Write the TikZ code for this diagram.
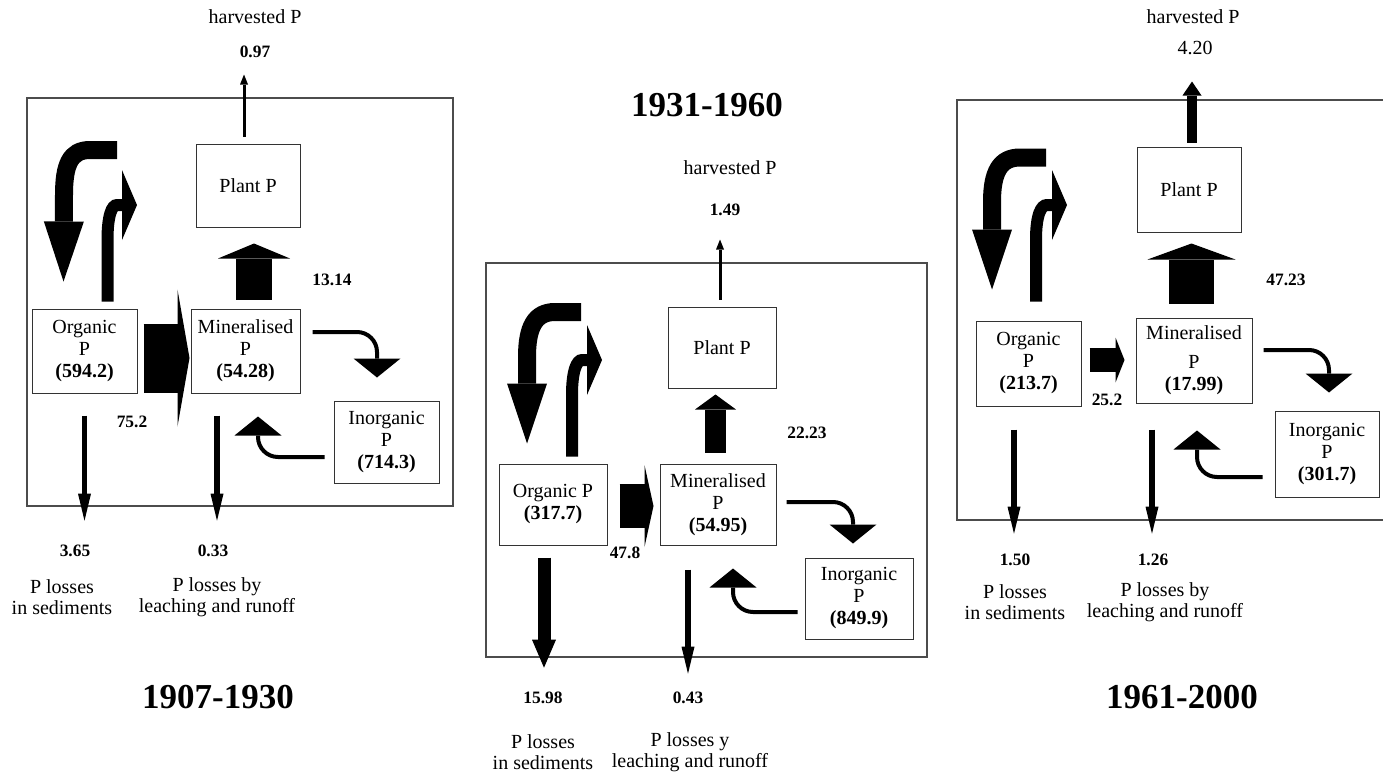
\documentclass[tikz,border=0pt]{standalone}
\usepackage{fontspec}
\setmainfont{Liberation Serif}
\usetikzlibrary{arrows.meta,calc}

\begin{document}
\begin{tikzpicture}[x=0.5pt, y=-0.5pt]
\useasboundingbox (0,0) rectangle (1383,777);
\tikzset{pool/.style={draw=black!80, line width=0.5pt, align=center, inner sep=0pt, font=\fontsize{10}{11}\selectfont},
  pframe/.style={draw=black!70, line width=0.7pt, inner sep=0pt},
  num/.style={font=\fontsize{8.7}{10}\selectfont\bfseries},
  lbl/.style={font=\fontsize{10}{10.5}\selectfont, align=center},
  period/.style={font=\fontsize{17.5}{20}\selectfont\bfseries},
  blk/.style n args={3}{line width=#1, -{Triangle[width=#2, length=#3, line width=0pt]}},
  flow/.style={blk={2pt}{23.5pt}{9.5pt}, rounded corners=10pt},
  loss/.style={blk={2.75pt}{6.5pt}{13.5pt}},
  harv/.style={blk={1.5pt}{4pt}{5pt}},
  feeddown/.style={blk={9pt}{20pt}{30pt}},
  feedup/.style={blk={6pt}{35pt}{7.5pt}}}
% 1907-1930
\node[pframe, minimum width=213pt, minimum height=204pt] (frame1) at (240,302) {};
\node[pool, minimum width=52pt, minimum height=41.5pt] (plant1) at (248,185.5) {Plant P};
\node[pool, minimum width=52.5pt, minimum height=42pt] (organic1) at (84.5,351) {Organic\\P\\\textbf{(594.2)}};
\node[pool, minimum width=54.5pt, minimum height=42pt] (mineral1) at (245.5,351) {Mineralised\\P\\\textbf{(54.28)}};
\node[pool, minimum width=52.5pt, minimum height=41pt] (inorg1) at (386.5,442) {Inorganic\\P\\\textbf{(714.3)}};
\node[lbl] (hl1) at (255,17) {harvested P};
\node[num] (hv1) at (255,52) {0.97};
\node[num] (up1) at (332,280) {13.14};
\node[num] (mn1) at (132,422) {75.2};
\node[num] (ls1) at (75,551) {3.65};
\node[num] (lr1) at (213,551) {0.33};
\node[lbl] (ts1) at (62,597) {P losses\\in sediments};
\node[lbl] (tr1) at (217,597) {P losses by\\leaching and runoff};
\node[period] (yr1) at (218,697) {1907-1930};
\draw[harv] ($(plant1.north)+(-4,-7)$) -- ($(plant1.north)+(-4,-69)$);
\draw[blk={18pt}{36pt}{7.5pt}] ($(mineral1.north)+(8.5,-9)$) -- ($(plant1.south)+(6,16)$);
\draw[blk={34.5pt}{68.5pt}{6pt}] ($(organic1.east)+(6,7)$) -- ($(mineral1.west)+(-1,7)$);
\draw[flow] ($(mineral1.east)+(12,-19)$) -| ($(inorg1.north)+(-9.5,-23)$);
\draw[flow] ($(inorg1.west)+(-9,15)$) -| ($(mineral1.south)+(12.5,23)$);
\draw[loss] ($(organic1.south)+(0,22)$) -- ($(organic1.south |- frame1.south)+(0,14)$);
\draw[loss] ($(mineral1.south)+(-28.5,22)$) -- ($(mineral1.south |- frame1.south)+(-28.5,14)$);
\draw[feeddown] (117,150) -- (90,150) .. controls (70,150) and (64,165) .. (64,195) -- ($(organic1.north)+(-21,-27)$);
\draw[feedup] ($(organic1.north)+(23,-7)$) -- (107.5,240) .. controls (107.5,215) and (112,205) .. (117,205) -- (137,205);
% 1931-1960
\node[pframe, minimum width=220.5pt, minimum height=197pt] (frame2) at (706.5,460) {};
\node[pool, minimum width=54pt, minimum height=40.5pt] (plant2) at (722,347.5) {Plant P};
\node[pool, minimum width=54pt, minimum height=40.5pt] (organic2) at (553,504.5) {Organic P\\\textbf{(317.7)}};
\node[pool, minimum width=58pt, minimum height=40.5pt] (mineral2) at (718,504.5) {Mineralised\\P\\\textbf{(54.95)}};
\node[pool, minimum width=54pt, minimum height=40.5pt] (inorg2) at (859,598.5) {Inorganic\\P\\\textbf{(849.9)}};
\node[period] (yr2) at (707,105) {1931-1960};
\node[lbl] (hl2) at (730,168) {harvested P};
\node[num] (hv2) at (725,210) {1.49};
\node[num] (up2) at (807,433) {22.23};
\node[num] (mn2) at (625,553) {47.8};
\node[num] (ls2) at (543,698) {15.98};
\node[num] (lr2) at (688,698) {0.43};
\node[lbl] (ts2) at (543,752) {P losses\\in sediments};
\node[lbl] (tr2) at (690,752) {P losses y\\leaching and runoff};
\draw[harv] ($(plant2.north)+(-2,-7)$) -- ($(plant2.north)+(-2,-67)$);
\draw[blk={10.5pt}{20.5pt}{7.5pt}] ($(mineral2.north)+(-2.5,-11)$) -- ($(plant2.south)+(-6.5,6)$);
\draw[blk={22pt}{41pt}{4.5pt}] ($(organic2.east)+(12,1.5)$) -- ($(mineral2.west)+(-6,1.5)$);
\draw[flow] ($(mineral2.east)+(10,-2.5)$) -| ($(inorg2.north)+(-6,-14)$);
\draw[flow] ($(inorg2.west)+(-7,13.5)$) -| ($(mineral2.south)+(15,23)$);
\draw[blk={6.5pt}{12pt}{14pt}] ($(organic2.south)+(-9,12)$) -- ($(organic2.south |- frame2.south)+(-9,10)$);
\draw[loss] ($(mineral2.south)+(-30,24)$) -- ($(mineral2.south |- frame2.south)+(-30,16)$);
\draw[feeddown] (581,312) -- (555,312) .. controls (535,312) and (527,327) .. (527,357) -- ($(organic2.north)+(-26,-20)$);
\draw[feedup] ($(organic2.north)+(19,-7)$) -- (572,395) .. controls (572,370) and (577,360) .. (582,360) -- (602,360);
% 1961-2000
\node[pframe, minimum width=221.5pt, minimum height=210pt] (frame3) at (1178.5,310) {};
\node[pool, minimum width=52pt, minimum height=42.5pt] (plant3) at (1189,189.5) {Plant P};
\node[pool, minimum width=52.5pt, minimum height=42.5pt] (organic3) at (1028.5,363.5) {Organic\\P\\\textbf{(213.7)}};
\node[pool, minimum width=58pt, minimum height=42.5pt] (mineral3) at (1194,360.5) {Mineralised\\[3.5pt]P\\\textbf{(17.99)}};
\node[pool, minimum width=52pt, minimum height=43pt] (inorg3) at (1327,454) {Inorganic\\P\\\textbf{(301.7)}};
\node[lbl] (hl3) at (1193,17) {harvested P};
\node[lbl] (hv3) at (1195,48) {4.20};
\node[num] (up3) at (1286,280) {47.23};
\node[num] (mn3) at (1107,400) {25.2};
\node[num] (ls3) at (1015,560) {1.50};
\node[num] (lr3) at (1153,560) {1.26};
\node[lbl] (ts3) at (1015,602) {P losses\\in sediments};
\node[lbl] (tr3) at (1165,602) {P losses by\\leaching and runoff};
\node[period] (yr3) at (1182,697) {1961-2000};
\draw[blk={5pt}{9.5pt}{7pt}] ($(plant3.north)+(3,-4)$) -- ($(plant3.north)+(3,-65)$);
\draw[blk={22.5pt}{44pt}{8pt}] ($(mineral3.north)+(-2.5,-14)$) -- ($(plant3.south)+(2.5,11)$);
\draw[blk={12pt}{22.5pt}{4.5pt}] ($(organic3.east)+(8,-3.5)$) -- ($(mineral3.west)+(-11,-0.5)$);
\draw[flow] ($(mineral3.east)+(11,-10.5)$) -| ($(inorg3.north)+(2,-18)$);
\draw[flow] ($(inorg3.west)+(-12,23)$) -| ($(mineral3.south)+(3,27)$);
\draw[loss] ($(organic3.south)+(-14.5,23)$) -- ($(organic3.south |- frame3.south)+(-14.5,13)$);
\draw[loss] ($(mineral3.south)+(-42,26)$) -- ($(mineral3.south |- frame3.south)+(-42,13)$);
\draw[feeddown] (1046,157.5) -- (1020,157.5) .. controls (1000,157.5) and (992,172) .. (992,202) -- ($(organic3.north)+(-36.5,-31)$);
\draw[feedup] ($(organic3.north)+(7.5,-19)$) -- (1036,240) .. controls (1036,215) and (1041,205) .. (1047,205) -- (1067,205);
\end{tikzpicture}
\end{document}
